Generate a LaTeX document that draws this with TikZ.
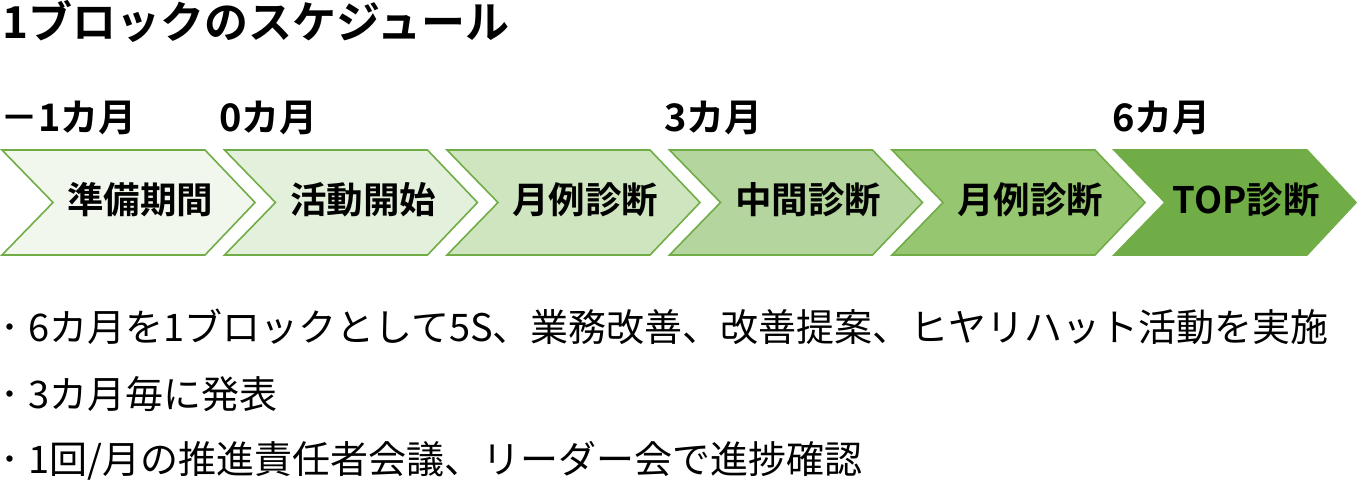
\documentclass[tikz,border=0pt]{standalone}
\usepackage{fontspec}
\setmainfont{Noto Sans CJK JP}
\newfontfamily\jpb{Noto Sans CJK JP Bold}
\definecolor{gline}{HTML}{70AD47}
\definecolor{g1}{HTML}{F1F7ED}
\definecolor{g2}{HTML}{E3F0DB}
\definecolor{g3}{HTML}{CFE5BF}
\definecolor{g4}{HTML}{B4D59E}
\definecolor{g5}{HTML}{96C670}
\definecolor{g6}{HTML}{70AD47}
\tikzset{
  chev/.style={draw=gline, line width=1.6pt, line join=miter},
  chevlabel/.style={anchor=base, inner sep=0pt, font=\jpb\fontsize{36.5}{40}\selectfont},
  monthlabel/.style={anchor=base west, inner sep=0pt, font=\jpb\fontsize{38}{42}\selectfont},
  titlelabel/.style={anchor=base west, inner sep=0pt, font=\jpb\fontsize{44}{48}\selectfont},
  bullet/.style={anchor=base west, inner sep=0pt, font=\fontsize{38}{42}\selectfont},
}
\begin{document}
\begin{tikzpicture}[x=1pt,y=-1pt]
\useasboundingbox (0,0) rectangle (1357,481);
% chevrons
\foreach \xo/\col [count=\i] in {2/g1,224.5/g2,447/g3,669.5/g4,892/g5}{
  \draw[chev, fill=\col] (\xo,150) -- ++(203,0) -- ++(50,52.5) -- ++(-50,52.5) -- ++(-203,0) -- ++(51,-52.5) -- cycle;
}
\draw[chev, fill=g6, draw=g6] (1114,150) -- (1307,150) -- (1356,202.5) -- (1307,255) -- (1114,255) -- (1165,202.5) -- cycle;
% chevron labels
\node[chevlabel] (c1) at (140,214) {準備期間};
\node[chevlabel] (c2) at (363,214) {活動開始};
\node[chevlabel] (c3) at (585,214) {月例診断};
\node[chevlabel] (c4) at (808,214) {中間診断};
\node[chevlabel] (c5) at (1030,214) {月例診断};
\node[chevlabel] (c6) at (1246,214) {TOP診断};
% title
\node[titlelabel] (title) at (2,39) {1ブロックのスケジュール};
% months
\node[monthlabel] (m1) at (0,132) {－1カ月};
\node[monthlabel] (m2) at (219,132) {0カ月};
\node[monthlabel] (m3) at (664,132) {3カ月};
\node[monthlabel] (m4) at (1112,132) {6カ月};
% bullets
\node[bullet] (b1) at (0,341) {･\kern9pt 6カ月を1ブロックとして5S、業務改善、改善提案、ヒヤリハット活動を実施};
\node[bullet] (b2) at (0,408) {･\kern9pt 3カ月毎に発表};
\node[bullet] (b3) at (0,473) {･\kern9pt 1回/月の推進責任者会議、リーダー会で進捗確認};
\end{tikzpicture}
\end{document}
